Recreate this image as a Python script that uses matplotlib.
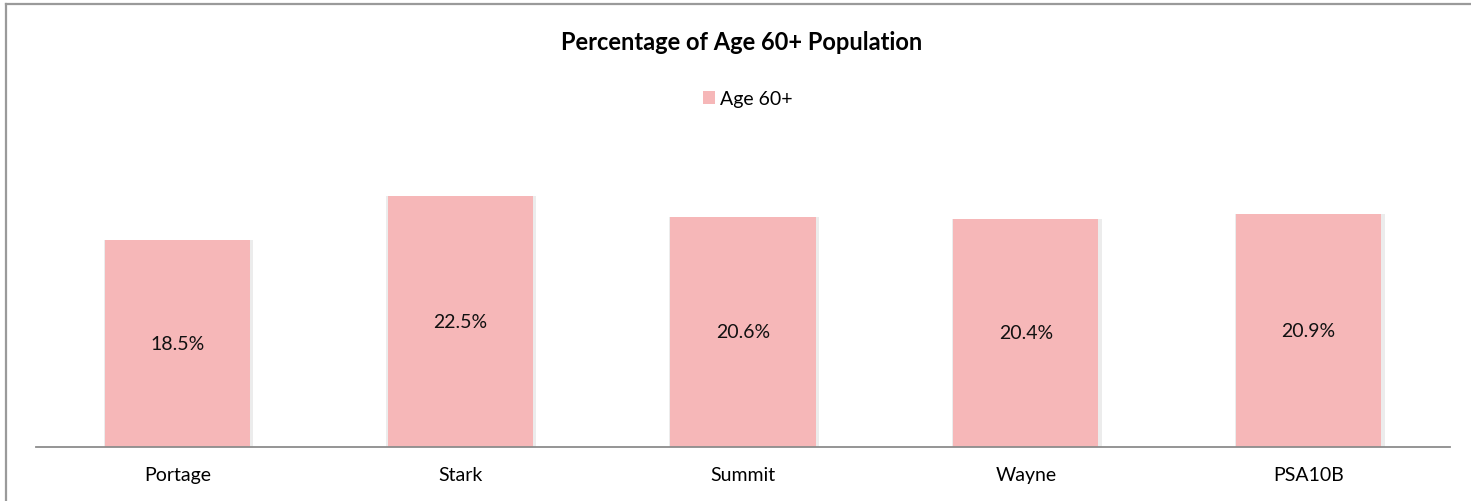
import matplotlib.pyplot as plt
from matplotlib.lines import Line2D
import numpy as np

# dati
contee = ['Portage', 'Stark', 'Summit', 'Wayne', 'PSA10B']
perc_60 = [18.5, 22.5, 20.6, 20.4, 20.9]
etichette = ['18.5%', '22.5%', '20.6%', '20.4%', '20.9%']

plt.rcParams['font.family'] = ['Lato', 'DejaVu Sans']

W, H = 1471, 502
fig = plt.figure(figsize=(W/100, H/100), dpi=100)

# cornice grigia: solo lato sinistro e alto (gli altri sono fuori immagine)
fig.lines.append(Line2D([6/W, 6/W], [0, 1 - 5/H], transform=fig.transFigure,
                        color='#9a9a9a', linewidth=1.6))
fig.lines.append(Line2D([6/W, 1], [1 - 5/H, 1 - 5/H], transform=fig.transFigure,
                        color='#9a9a9a', linewidth=1.6))

ax = fig.add_axes([36/W, 54.3/H, 1414/W, 278.8/H])
x = np.arange(len(contee))
colore = '#f6b7b8'

# ombra leggera attorno alle barre
ax.bar(x + 0.004, perc_60, width=0.53, color='#9a9a9a', alpha=0.18, zorder=1, linewidth=0)
barre = ax.bar(x, perc_60, width=0.513, color=colore, zorder=2, label='Age 60+')

for xi, v, t in zip(x, perc_60, etichette):
    ax.text(xi, v/2, t, ha='center', va='center', fontsize=14, color='#111111', zorder=3)

ax.set_xlim(-0.5, len(contee) - 0.5)
ax.set_ylim(0, 25)
ax.set_xticks(x)
ax.set_xticklabels(contee, fontsize=14)
ax.tick_params(axis='x', length=0, pad=14)
ax.set_yticks([])
for s in ['top', 'right', 'left']:
    ax.spines[s].set_visible(False)
ax.spines['bottom'].set_color('#8c8c8c')
ax.spines['bottom'].set_linewidth(1.3)
ax.spines['bottom'].set_zorder(4)

fig.text(742/W, 1 - 43/H, 'Percentage of Age 60+ Population', ha='center', va='center',
         fontsize=17, fontweight='bold', color='black')
fig.legend(handles=[barre], labels=['Age 60+'], loc='center', bbox_to_anchor=(748/W, 1 - 100/H),
           frameon=False, fontsize=14, handlelength=0.6, handleheight=0.6, handletextpad=0.3)

fig.savefig('out.png', dpi=100)
